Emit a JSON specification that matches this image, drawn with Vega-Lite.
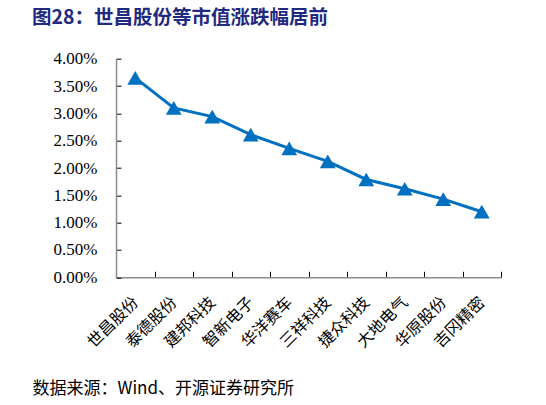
{
  "$schema": "https://vega.github.io/schema/vega-lite/v6.json",
  "description": "世昌股份等市值涨跌幅居前",
  "width": 385,
  "height": 218.6,
  "autosize": {"type": "none"},
  "padding": {"left": 116, "top": 58.7, "right": 45, "bottom": 127.7},
  "title": {
    "text": "图28：世昌股份等市值涨跌幅居前",
    "anchor": "start",
    "frame": "group",
    "dx": -84,
    "offset": 21,
    "font": "Noto Sans CJK SC",
    "fontSize": 19.5,
    "fontWeight": "bold",
    "color": "#1F2A80"
  },
  "data": {
    "values": [
      {"name": "世昌股份", "pct": 0.0365},
      {"name": "泰德股份", "pct": 0.0310},
      {"name": "建邦科技", "pct": 0.0294},
      {"name": "智新电子", "pct": 0.0261},
      {"name": "华洋赛车", "pct": 0.0236},
      {"name": "三祥科技", "pct": 0.0212},
      {"name": "捷众科技", "pct": 0.0179},
      {"name": "大地电气", "pct": 0.0162},
      {"name": "华原股份", "pct": 0.0143},
      {"name": "吉冈精密", "pct": 0.0120}
    ]
  },
  "encoding": {
    "x": {
      "field": "name",
      "type": "nominal",
      "sort": null,
      "scale": {"type": "band", "paddingInner": 0, "paddingOuter": 0},
      "axis": {
        "title": "数据来源：Wind、开源证券研究所",
        "titleFont": "Noto Sans CJK SC",
        "titleFontSize": 17,
        "titleFontWeight": "normal",
        "titleColor": "#000000",
        "titleAnchor": "start",
        "titleAlign": "left",
        "titleBaseline": "middle",
        "titleX": -84,
        "titleY": 111,
        "labelAngle": -45,
        "labelAlign": "right",
        "labelBaseline": "middle",
        "labelPadding": 28,
        "labelFont": "Noto Sans CJK SC",
        "labelFontSize": 16,
        "labelColor": "#000000",
        "tickBand": "extent",
        "tickSize": -6,
        "tickColor": "#000000",
        "domainColor": "#8C8C8C",
        "domainWidth": 1.5,
        "grid": false
      }
    },
    "y": {
      "field": "pct",
      "type": "quantitative",
      "scale": {"domain": [0, 0.04], "nice": false},
      "axis": {
        "title": null,
        "format": ".2%",
        "values": [0, 0.005, 0.01, 0.015, 0.02, 0.025, 0.03, 0.035, 0.04],
        "labelFont": "Liberation Serif",
        "labelFontSize": 17,
        "labelColor": "#000000",
        "labelPadding": 24,
        "tickSize": -5,
        "tickColor": "#000000",
        "domainColor": "#8C8C8C",
        "domainWidth": 1.5,
        "grid": false
      }
    }
  },
  "layer": [
    {
      "mark": {"type": "line", "color": "#0070C0", "strokeWidth": 3}
    },
    {
      "mark": {"type": "point", "shape": "triangle-up", "filled": true, "opacity": 1, "color": "#0070C0", "size": 250}
    }
  ],
  "config": {
    "view": {"stroke": null},
    "background": "#FFFFFF"
  }
}
